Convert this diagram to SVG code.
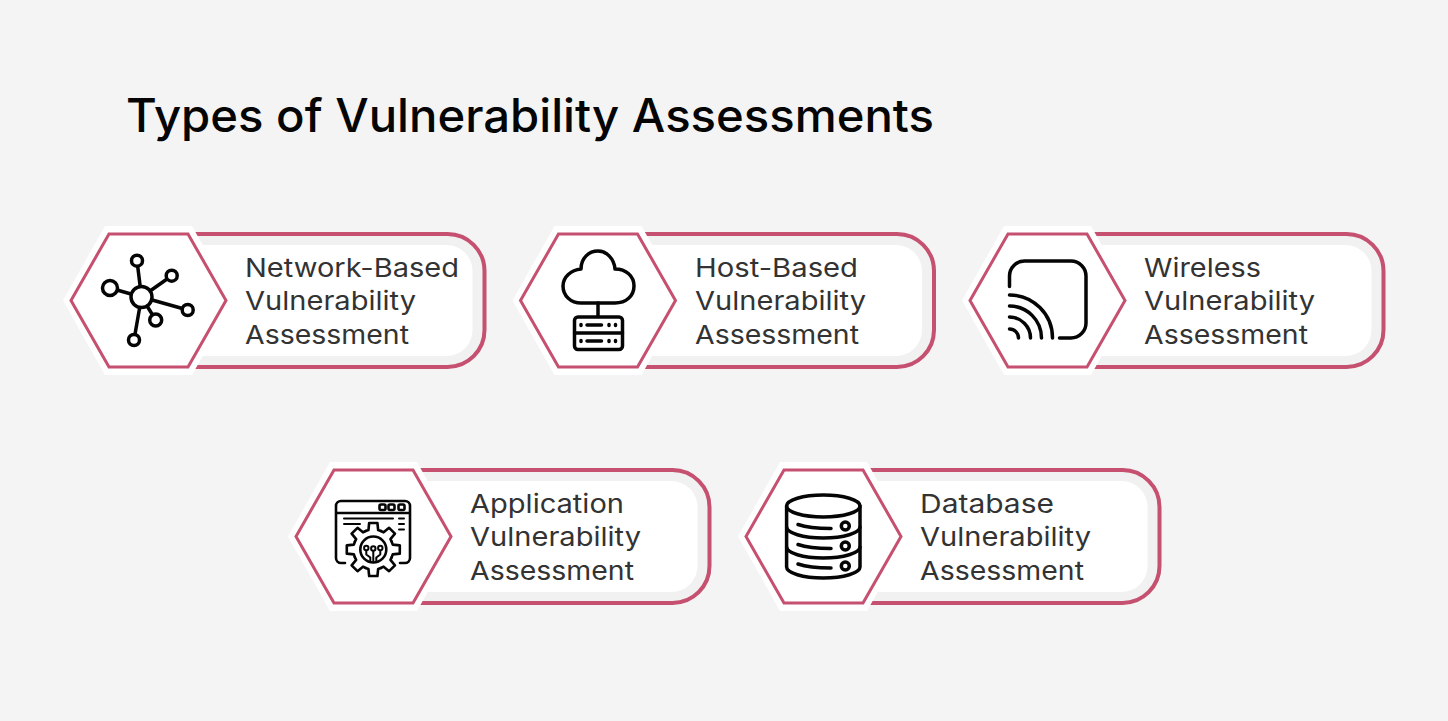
<svg xmlns="http://www.w3.org/2000/svg" width="1448" height="721" viewBox="0 0 1448 721">
<style>
text{font-family:"Inter","Liberation Sans",sans-serif}
.title{font-size:46px;font-weight:500;fill:#050505}
.label{font-size:26px;font-weight:400;fill:#333}
.ic{fill:none;stroke:#050505;stroke-width:3.500;stroke-linecap:round;stroke-linejoin:round}
.icw{fill:#fff;stroke:#050505;stroke-width:3.500;stroke-linecap:round;stroke-linejoin:round}
.thin{stroke-width:2.600}
</style>
<defs>
<g id="card">
<path d="M150 234H447.500A37 37 0 0 1 484.500 271V330A37 37 0 0 1 447.500 367H150Z" fill="#f1f1f1" stroke="#c5506f" stroke-width="4"/>
<path d="M150 245H446.500A26 26 0 0 1 472.500 271V330A26 26 0 0 1 446.500 356H150Z" fill="#fff"/>
<path d="M63 300.500L105 226H192L234 300.500L192 375H105Z" fill="#fff"/>
<path d="M71 300.500L109 234H188L226 300.500L188 367H109Z" fill="#fff" stroke="#c5506f" stroke-width="3"/>
</g>
<path id="tooth" d="M-7.650-18.480L-4.840-19.410L-4.150-26.500H4.150L4.840-19.410L7.650-18.480" class="icw thin"/>
</defs>
<rect width="1448" height="721" fill="#f4f4f4"/>
<text class="title" x="126" y="132" textLength="808" lengthAdjust="spacingAndGlyphs">Types of Vulnerability Assessments</text>
<g id="connectors"/>
<g id="node-network">
<use href="#card"/>
<g class="ic">
<path d="M141.500 297L137 260.700M141.500 297L171.700 275.700M141.500 297L187.700 310M141.500 297L155.700 320M141.500 297L134 340M141.500 297L110 288"/>
<circle class="icw" cx="141.500" cy="297" r="10.500"/>
<circle class="icw" cx="137" cy="260.700" r="5.500"/>
<circle class="icw" cx="171.700" cy="275.700" r="5.500"/>
<circle class="icw" cx="187.700" cy="310" r="5.500"/>
<circle class="icw" cx="155.700" cy="320" r="6"/>
<circle class="icw" cx="134" cy="340" r="5.500"/>
<circle class="icw" cx="110" cy="288" r="7.500"/>
</g>
<text class="label" x="245" y="277" textLength="214" lengthAdjust="spacingAndGlyphs">Network-Based</text>
<text class="label" x="245" y="310" textLength="171" lengthAdjust="spacingAndGlyphs">Vulnerability</text>
<text class="label" x="245" y="344" textLength="164" lengthAdjust="spacingAndGlyphs">Assessment</text>
</g>
<g id="node-host">
<use href="#card" x="449.500"/>
<g class="ic">
<path d="M581 303H615C626 303 634 296 634 286C634 276 626 269 615 269C614 258 606 251 598 251C589 251 581 258 581 269C571 270 563 277 563 286C563 296 571 303 581 303Z"/>
<path d="M598 303V316.500"/>
<rect x="574.500" y="317" width="48" height="32.500" rx="3.500"/>
<path d="M574.500 333H622.500M581 324.500V325.500M587 325H601.500M609 324.500V325.500M615.500 324.500V325.500M581 340.500V341.500M587 341H601.500M609 340.500V341.500M615.500 340.500V341.500"/>
</g>
<text class="label" x="695" y="277" textLength="163" lengthAdjust="spacingAndGlyphs">Host-Based</text>
<text class="label" x="695" y="310" textLength="171" lengthAdjust="spacingAndGlyphs">Vulnerability</text>
<text class="label" x="695" y="344" textLength="164" lengthAdjust="spacingAndGlyphs">Assessment</text>
</g>
<g id="node-wireless">
<use href="#card" x="899"/>
<g class="ic">
<path d="M1009.500 286.500V276A15 15 0 0 1 1024.500 261H1071A15 15 0 0 1 1086 276V323A15 15 0 0 1 1071 338H1059.500"/>
<path d="M1009.500 295A43 43 0 0 1 1052.500 338M1009.500 306A32 32 0 0 1 1041.500 338M1009.500 317A21 21 0 0 1 1030.500 338M1009.500 329A9 9 0 0 1 1018.500 338"/>
</g>
<text class="label" x="1144" y="277" textLength="117" lengthAdjust="spacingAndGlyphs">Wireless</text>
<text class="label" x="1144" y="310" textLength="171" lengthAdjust="spacingAndGlyphs">Vulnerability</text>
<text class="label" x="1144" y="344" textLength="164" lengthAdjust="spacingAndGlyphs">Assessment</text>
</g>
<g id="node-application">
<use href="#card" x="225" y="236"/>
<g class="ic thin">
<path d="M345 563H341A5 5 0 0 1 336 558V506A5 5 0 0 1 341 501H405A5 5 0 0 1 410 506V558A5 5 0 0 1 405 563H400M336 513H410"/>
<rect x="379.500" y="504.500" width="6" height="5.500" rx="1.500"/>
<rect x="388.500" y="504.500" width="6" height="5.500" rx="1.500"/>
<rect x="398.500" y="504.500" width="6" height="5.500" rx="1.500"/>
<path d="M344 518.500H393M399 518.500H404M344 524H360M399 524H404M399 529.500H404" stroke-width="2"/>
</g>
<g transform="translate(373.300 549.500)">
<circle r="20" fill="#fff"/>
<use href="#tooth"/><use href="#tooth" transform="rotate(45)"/><use href="#tooth" transform="rotate(90)"/><use href="#tooth" transform="rotate(135)"/><use href="#tooth" transform="rotate(180)"/><use href="#tooth" transform="rotate(225)"/><use href="#tooth" transform="rotate(270)"/><use href="#tooth" transform="rotate(315)"/>
<circle class="ic thin" r="13"/>
<path class="ic" style="stroke-width:2" d="M0 1V12M-7 1V5L-3 8V12M7 1V5L3 8V12"/>
<circle cx="-7" cy="-1.500" r="2.200" class="icw" style="stroke-width:2"/>
<circle cx="0" cy="-1" r="2.200" class="icw" style="stroke-width:2"/>
<circle cx="7" cy="-1.500" r="2.200" class="icw" style="stroke-width:2"/>
</g>
<text class="label" x="470" y="513" textLength="154" lengthAdjust="spacingAndGlyphs">Application</text>
<text class="label" x="470" y="546" textLength="171" lengthAdjust="spacingAndGlyphs">Vulnerability</text>
<text class="label" x="470" y="580" textLength="164" lengthAdjust="spacingAndGlyphs">Assessment</text>
</g>
<g id="node-database">
<use href="#card" x="675" y="236"/>
<g class="ic">
<ellipse cx="823.300" cy="506" rx="36.700" ry="11"/>
<path d="M786.600 506V567C786.600 573 803 578 823.300 578C843.600 578 860 573 860 567V506"/>
<path d="M786.600 527C786.600 533 803 538 823.300 538C843.600 538 860 533 860 527M786.600 547C786.600 553 803 558 823.300 558C843.600 558 860 553 860 547"/>
<path d="M798 524.500C808 528 820 528.500 831 528.500M798 544.500C808 548 820 548.500 831 548.500M798 564C808 567.500 820 568 831 568"/>
<circle cx="845.300" cy="526" r="4"/>
<circle cx="845.300" cy="546" r="4"/>
<circle cx="845.300" cy="566" r="4"/>
</g>
<text class="label" x="920" y="513" textLength="134" lengthAdjust="spacingAndGlyphs">Database</text>
<text class="label" x="920" y="546" textLength="171" lengthAdjust="spacingAndGlyphs">Vulnerability</text>
<text class="label" x="920" y="580" textLength="164" lengthAdjust="spacingAndGlyphs">Assessment</text>
</g>
</svg>
